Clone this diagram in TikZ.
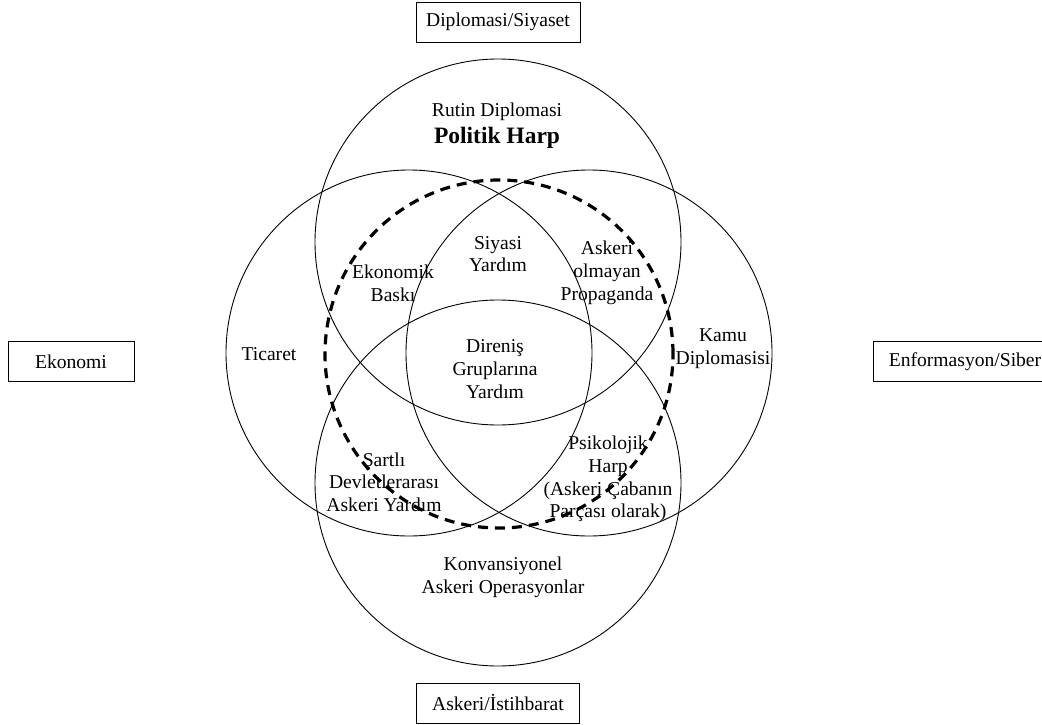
\documentclass[tikz,border=0pt]{standalone}
\usepackage{fontspec}
\setmainfont{Liberation Serif}
\begin{document}
\begin{tikzpicture}[x=1pt,y=-1pt,
  ring/.style={circle,draw=black,line width=0.9pt,inner sep=0pt,minimum size=366pt},
  dashring/.style={circle,draw=black,line width=3.2pt,dash pattern=on 10pt off 7pt,inner sep=0pt,minimum size=348pt},
  lbl/.style={align=center,inner sep=0pt,font=\fontsize{19.6}{22.7}\selectfont},
  big/.style={align=center,inner sep=0pt,font=\fontsize{23.5}{26}\selectfont\bfseries},
  areabox/.style={draw=black,line width=0.9pt,inner sep=0pt,minimum height=40pt,font=\fontsize{19.6}{22.7}\selectfont}]
\useasboundingbox (0,0) rectangle (1042,725);
% circles
\node[ring] (top) at (498,242) {};
\node[ring] (bottom) at (498,483) {};
\node[ring] (left) at (409,353) {};
\node[ring] (right) at (589,353) {};
% domain boxes
\node[areabox,minimum width=164pt] (dip) at (498,22) {Diplomasi/Siyaset};
\node[areabox,minimum width=163pt] (ask) at (498,703) {Askeri/İstihbarat};
\node[areabox,minimum width=126pt] (eko) at (71,361.5) {Ekonomi};
\node[areabox,minimum width=184pt] (enf) at (965,361.5) {Enformasyon/Siber};
% labels
\node[lbl] (rutin) at (497,112) {Rutin Diplomasi};
\node[big] (pol) at (497,138) {Politik Harp};
\node[lbl] (siy) at (498,254) {Siyasi\\Yardım};
\node[lbl] (prop) at (607,273) {Askeri\\olmayan\\Propaganda};
\node[lbl] (ekb) at (393,283) {Ekonomik\\Baskı};
\node[lbl] (tic) at (269,354) {Ticaret};
\node[lbl] (dir) at (495,369) {Direniş\\Gruplarına\\Yardım};
\node[lbl] (kamu) at (723,349) {Kamu\\Diplomasisi};
\node[lbl] (sart) at (384,482) {Şartlı\\Devletlerarası\\Askeri Yardım};
\node[lbl] (psi) at (608,479) {Psikolojik\\Harp\\(Askeri Çabanın\\Parçası olarak)};
\node[lbl] (konv) at (503,577) {Konvansiyonel\\Askeri Operasyonlar};
% dashed circle
\node[dashring] (hybrid) at (499,354) {};
\end{tikzpicture}
\end{document}
